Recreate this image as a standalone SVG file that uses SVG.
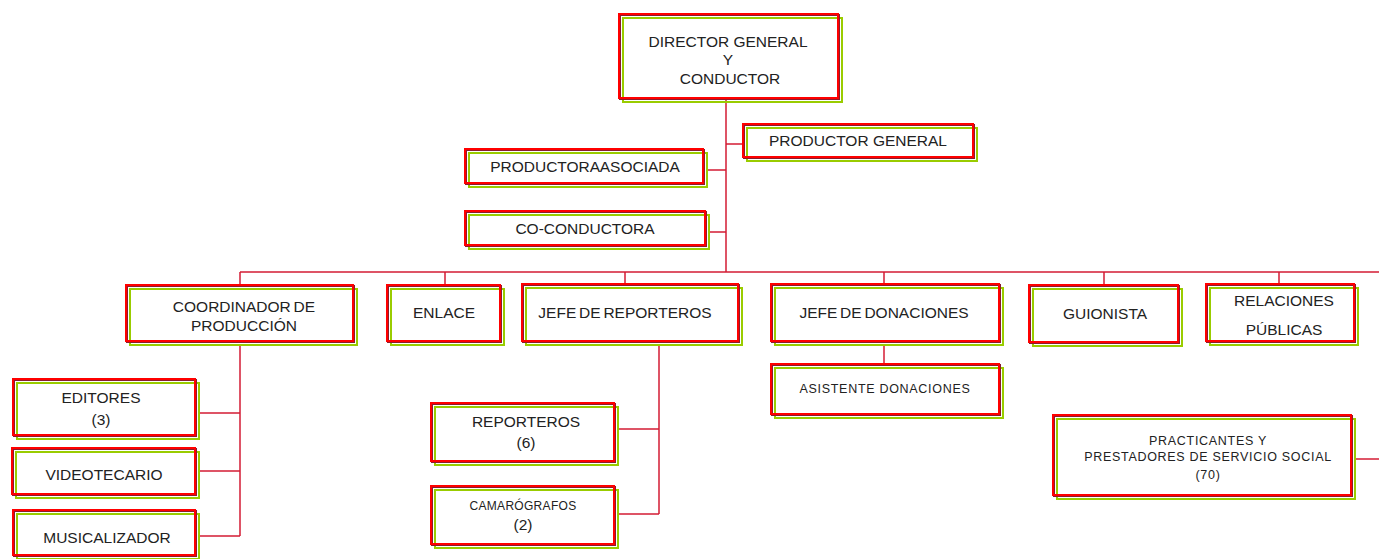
<svg xmlns="http://www.w3.org/2000/svg" width="1379" height="559" viewBox="0 0 1379 559">
<defs>
<style>
.bg{fill:#fff;stroke:none}
.g{fill:none;stroke:#9c0;stroke-width:2}
.m{fill:none;stroke:#8a1c2c;stroke-width:2}
.r{fill:none;stroke:#f00;stroke-width:2}
.t{font-family:"Liberation Sans",Arial,sans-serif;font-size:15.5px;fill:#222;text-anchor:middle}
.s{font-family:"Liberation Sans",Arial,sans-serif;font-size:12.5px;fill:#222;text-anchor:middle;letter-spacing:0.7px}
.c{fill:none;stroke:#d41c34;stroke-width:1.5}
</style>
</defs>
<rect width="1379" height="559" fill="#fff"/>
<g id="connectors">
<path class="c" d="M726,98V272M726,144H743M707,170H726M708,232H726"/>
<path class="c" d="M240,272H1379M240,272V285M445,272V285M625,272V284M884,272V284M1104,272V285M1279,272V284"/>
<path class="c" d="M240,344V536M198,413H240M198,471H240M198,536H240"/>
<path class="c" d="M659,345V514M617,429H659M617,514H659"/>
<path class="c" d="M884,345V364"/>
<path class="c" d="M1355,459H1379"/>
</g>
<g id="director">
<rect class="bg" x="619" y="14" width="219" height="84"/><rect class="g" x="623" y="18" width="219" height="84"/><rect class="m" x="620" y="15" width="219" height="84"/><rect class="r" x="619" y="14" width="219" height="84"/>
<text class="t" x="728" y="47">DIRECTOR GENERAL</text><text class="t" x="728" y="65">Y</text><text class="t" x="730" y="84">CONDUCTOR</text>
</g>
<g id="productor-general">
<rect class="bg" x="743" y="124" width="230" height="33"/><rect class="g" x="747" y="128" width="230" height="33"/><rect class="m" x="744" y="125" width="230" height="33"/><rect class="r" x="743" y="124" width="230" height="33"/>
<text class="t" x="858" y="146">PRODUCTOR GENERAL</text>
</g>
<g id="productora-asociada">
<rect class="bg" x="465" y="149" width="238" height="34"/><rect class="g" x="469" y="153" width="238" height="34"/><rect class="m" x="466" y="150" width="238" height="34"/><rect class="r" x="465" y="149" width="238" height="34"/>
<text class="t" x="585" y="172" word-spacing="-3">PRODUCTORA ASOCIADA</text>
</g>
<g id="co-conductora">
<rect class="bg" x="465" y="211" width="240" height="34"/><rect class="g" x="469" y="215" width="240" height="34"/><rect class="m" x="466" y="212" width="240" height="34"/><rect class="r" x="465" y="211" width="240" height="34"/>
<text class="t" x="585" y="234">CO-CONDUCTORA</text>
</g>
<g id="coordinador">
<rect class="bg" x="126" y="285" width="227" height="56"/><rect class="g" x="130" y="289" width="227" height="56"/><rect class="m" x="127" y="286" width="227" height="56"/><rect class="r" x="126" y="285" width="227" height="56"/>
<text class="t" x="244" y="312" word-spacing="-1.5">COORDINADOR DE</text><text class="t" x="244" y="331">PRODUCCIÓN</text>
</g>
<g id="enlace">
<rect class="bg" x="387" y="285" width="113" height="56"/><rect class="g" x="391" y="289" width="113" height="56"/><rect class="m" x="388" y="286" width="113" height="56"/><rect class="r" x="387" y="285" width="113" height="56"/>
<text class="t" x="444" y="318">ENLACE</text>
</g>
<g id="jefe-reporteros">
<rect class="bg" x="522" y="284" width="216" height="57"/><rect class="g" x="526" y="288" width="216" height="57"/><rect class="m" x="523" y="285" width="216" height="57"/><rect class="r" x="522" y="284" width="216" height="57"/>
<text class="t" x="625" y="318" word-spacing="-1.5">JEFE DE REPORTEROS</text>
</g>
<g id="jefe-donaciones">
<rect class="bg" x="771" y="284" width="228" height="57"/><rect class="g" x="775" y="288" width="228" height="57"/><rect class="m" x="772" y="285" width="228" height="57"/><rect class="r" x="771" y="284" width="228" height="57"/>
<text class="t" x="884" y="318" word-spacing="-1.5">JEFE DE DONACIONES</text>
</g>
<g id="guionista">
<rect class="bg" x="1029" y="285" width="149" height="57"/><rect class="g" x="1033" y="289" width="149" height="57"/><rect class="m" x="1030" y="286" width="149" height="57"/><rect class="r" x="1029" y="285" width="149" height="57"/>
<text class="t" x="1105" y="319">GUIONISTA</text>
</g>
<g id="relaciones-publicas">
<rect class="bg" x="1206" y="284" width="148" height="57"/><rect class="g" x="1210" y="288" width="148" height="57"/><rect class="m" x="1207" y="285" width="148" height="57"/><rect class="r" x="1206" y="284" width="148" height="57"/>
<text class="t" x="1284" y="306">RELACIONES</text><text class="t" x="1284" y="335">PÚBLICAS</text>
</g>
<g id="asistente-donaciones">
<rect class="bg" x="771" y="364" width="228" height="50"/><rect class="g" x="775" y="368" width="228" height="50"/><rect class="m" x="772" y="365" width="228" height="50"/><rect class="r" x="771" y="364" width="228" height="50"/>
<text class="s" x="885" y="393">ASISTENTE DONACIONES</text>
</g>
<g id="practicantes">
<rect class="bg" x="1053" y="415" width="298" height="80"/><rect class="g" x="1057" y="419" width="298" height="80"/><rect class="m" x="1054" y="416" width="298" height="80"/><rect class="r" x="1053" y="415" width="298" height="80"/>
<text class="s" x="1208" y="445">PRACTICANTES Y</text><text class="s" x="1208" y="461">PRESTADORES DE SERVICIO SOCIAL</text><text class="s" x="1208" y="479">(70)</text>
</g>
<g id="editores">
<rect class="bg" x="13" y="379" width="182" height="56"/><rect class="g" x="17" y="383" width="182" height="56"/><rect class="m" x="14" y="380" width="182" height="56"/><rect class="r" x="13" y="379" width="182" height="56"/>
<text class="t" x="101" y="403">EDITORES</text><text class="t" x="101" y="425">(3)</text>
</g>
<g id="videotecario">
<rect class="bg" x="12" y="448" width="183" height="46"/><rect class="g" x="16" y="452" width="183" height="46"/><rect class="m" x="13" y="449" width="183" height="46"/><rect class="r" x="12" y="448" width="183" height="46"/>
<text class="t" x="104" y="480">VIDEOTECARIO</text>
</g>
<g id="musicalizador">
<rect class="bg" x="13" y="510" width="182" height="45"/><rect class="g" x="17" y="514" width="182" height="45"/><rect class="m" x="14" y="511" width="182" height="45"/><rect class="r" x="13" y="510" width="182" height="45"/>
<text class="t" x="107" y="543">MUSICALIZADOR</text>
</g>
<g id="reporteros">
<rect class="bg" x="431" y="403" width="183" height="58"/><rect class="g" x="435" y="407" width="183" height="58"/><rect class="m" x="432" y="404" width="183" height="58"/><rect class="r" x="431" y="403" width="183" height="58"/>
<text class="t" x="526" y="427">REPORTEROS</text><text class="t" x="526" y="448">(6)</text>
</g>
<g id="camarografos">
<rect class="bg" x="431" y="486" width="183" height="58"/><rect class="g" x="435" y="490" width="183" height="58"/><rect class="m" x="432" y="487" width="183" height="58"/><rect class="r" x="431" y="486" width="183" height="58"/>
<text class="s" x="523" y="510" style="font-size:12px;letter-spacing:0.3px">CAMARÓGRAFOS</text><text class="t" x="523" y="530">(2)</text>
</g>
</svg>
